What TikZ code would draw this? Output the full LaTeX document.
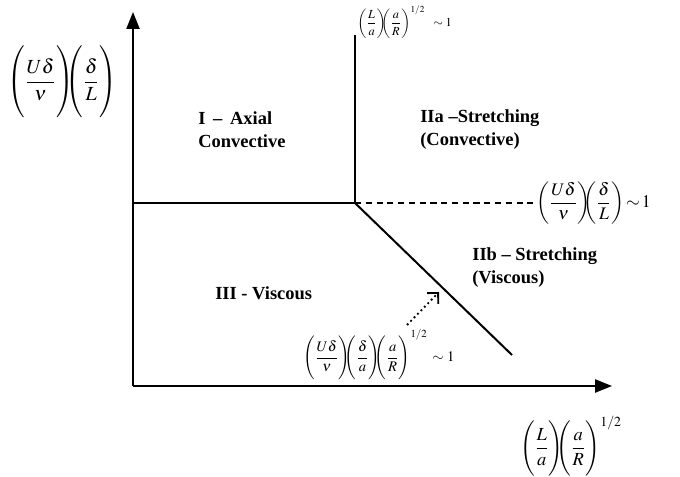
\documentclass[tikz,border=0pt]{standalone}
\usepackage{amsmath}
\usepackage{mathptmx}
\usepackage{fontspec}
\setmainfont{Liberation Serif}
\usepackage{tikz}
\usetikzlibrary{arrows.meta,positioning,calc}
\newcommand{\pfr}[3][5.7ex]{\left(\vcenter{\hrule height #1 width 0pt}\dfrac{#2}{#3}\right)}
\newcommand{\pj}{\mkern-9mu}
\tikzset{
  axisline/.style={-{Triangle[length=11pt,width=8.5pt]},line width=1.3pt},
  regline/.style={line width=1.3pt},
  bndline/.style={line width=0.7pt,dash pattern=on 4pt off 3pt},
  hintarrow/.style={dotted,line width=1.2pt,-{Straight Barb[length=5pt,width=10pt]}},
  reglab/.style={font=\fontsize{12}{15}\selectfont\bfseries,align=left,anchor=west,inner sep=0pt},
  biglab/.style={font=\fontsize{13}{15}\selectfont,inner sep=0pt},
  smalllab/.style={font=\fontsize{8}{10}\selectfont,inner sep=0pt,anchor=west}
}

\begin{document}
\begin{tikzpicture}[x=0.65pt,y=-0.65pt]
  \useasboundingbox (0,0) rectangle (680,476);
  % axes
  \coordinate (o) at (133,386);
  \coordinate (ytip) at (133,12);
  \coordinate (xtip) at (612,386);
  \draw[axisline] (o) -- (ytip);
  \draw[axisline] (o) -- (xtip);
  % regime boundaries
  \coordinate (lft) at (133,203);
  \coordinate (c) at (355,203);
  \coordinate (top) at (355,35);
  \coordinate (e) at (512,355);
  \draw[regline] (lft) -- (c) -- (top);
  \draw[regline] (c) -- (e);
  % axis labels
  \node[biglab] (ylab) at (62,82) {$\pfr[8ex]{U\delta}{\nu}\pj\pfr[8ex]{\delta}{L}$};
  \node[biglab,font=\fontsize{12}{14}\selectfont] (xlab) at (571,446) {$\pfr[6ex]{L}{a}\pj\pfr[6ex]{a}{R}^{1/2}$};
  % boundary labels
  \node[smalllab] (toplab) at (357,22) {$\pfr[5ex]{L}{a}\pj\pfr[5ex]{a}{R}^{1/2}\;\;\sim 1$};
  \node[smalllab,font=\fontsize{11.5}{13}\selectfont] (rlab) at (536,203) {$\pfr[4.6ex]{U\delta}{\nu}\pj\pfr[4.6ex]{\delta}{L}\!\sim\!1$};
  \node[smalllab,font=\fontsize{9.5}{11}\selectfont] (dlab) at (303,356) {$\pfr[7.2ex]{U\delta}{\nu}\pj\pfr[7.2ex]{\delta}{a}\pj\pfr[7.2ex]{a}{R}^{1/2}\,\sim 1$};
  \draw[bndline] (c) -- (rlab.west);
  \coordinate (hs) at (407,325);
  \coordinate (he) at (439,292);
  \draw[hintarrow] (hs) -- (he);
  % regimes
  \node[reglab] (r1) at (198,130) {I \,--\, Axial\\Convective};
  \node[reglab] (r2a) at (420,130) {IIa --Stretching\\(Convective)};
  \node[reglab] (r2b) at (472,268) {IIb -- Stretching\\(Viscous)};
  \node[reglab] (r3) at (215,293) {III - Viscous};
\end{tikzpicture}
\end{document}
